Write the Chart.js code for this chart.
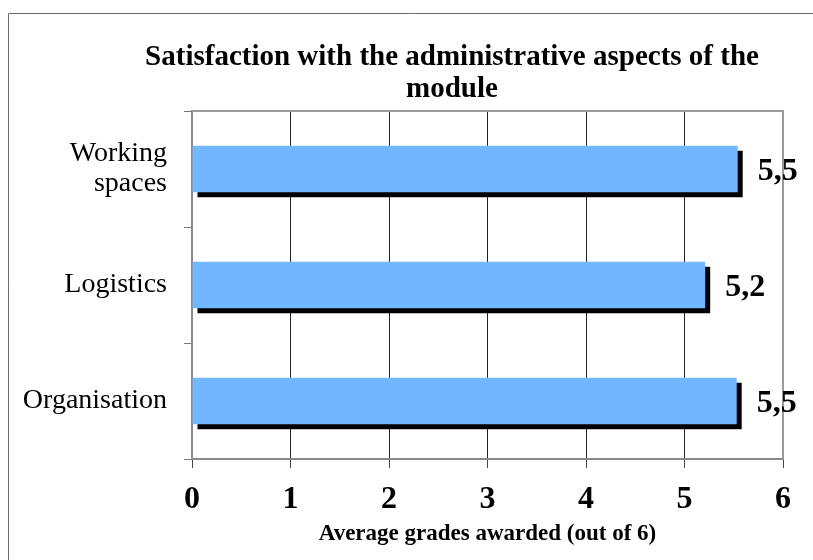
<!DOCTYPE html>
<html>
<head>
<meta charset="utf-8">
<title>Satisfaction with the administrative aspects of the module</title>
<script src="https://cdn.jsdelivr.net/npm/chart.js@4"></script>
<style>
  html, body { margin: 0; padding: 0; background: #fff; overflow: hidden; }
  #wrap { position: relative; width: 813px; height: 560px; }
</style>
</head>
<body>
<div id="wrap"><canvas id="adminChart"></canvas></div>
<script>
// data
const categories = [["Working", "spaces"], "Logistics", "Organisation"];
const grades = [5.54, 5.21, 5.53];
const xTicks = [0, 1, 2, 3, 4, 5, 6];
const titleLines = ["Satisfaction with the administrative aspects of the", "module"];
const xTitle = "Average grades awarded (out of 6)";

const serif = "'Liberation Serif', 'Times New Roman', serif";

// black drop shadow under each bar
const barShadow = {
  id: "barShadow",
  beforeDatasetsDraw(chart) {
    const ctx = chart.ctx;
    ctx.save();
    ctx.shadowColor = "#000";
    ctx.shadowOffsetX = 5;
    ctx.shadowOffsetY = 5;
    ctx.shadowBlur = 0;
  },
  afterDatasetsDraw(chart) {
    chart.ctx.restore();
  },
};

// frame, plot border, title and value labels
const decor = {
  id: "decor",
  afterDraw(chart) {
    const ctx = chart.ctx;
    const area = chart.chartArea;
    ctx.save();

    // outer frame (only left and top are inside the picture)
    ctx.strokeStyle = "#6b6b6b";
    ctx.lineWidth = 1;
    ctx.beginPath();
    ctx.moveTo(8.5, chart.height);
    ctx.lineTo(8.5, 13.5);
    ctx.lineTo(chart.width, 13.5);
    ctx.stroke();

    // plot border top + right
    ctx.strokeStyle = "#9a9a9a";
    ctx.lineWidth = 2;
    ctx.beginPath();
    ctx.moveTo(area.left, area.top);
    ctx.lineTo(area.right, area.top);
    ctx.lineTo(area.right, area.bottom);
    ctx.stroke();

    // title
    ctx.fillStyle = "#000";
    ctx.font = "bold 29px " + serif;
    ctx.textAlign = "center";
    ctx.textBaseline = "alphabetic";
    titleLines.forEach((line, i) => {
      ctx.fillText(line, 452, 65 + i * 32);
    });

    // value labels
    ctx.font = "bold 32px " + serif;
    ctx.textAlign = "left";
    ctx.textBaseline = "middle";
    const meta = chart.getDatasetMeta(0);
    meta.data.forEach((bar, i) => {
      const txt = grades[i].toFixed(1).replace(".", ",");
      ctx.fillText(txt, bar.x + 20, bar.y + 3);
    });

    ctx.restore();
  },
};

new Chart(document.getElementById("adminChart"), {
  type: "bar",
  data: {
    labels: categories,
    datasets: [
      {
        label: "Average grade",
        data: grades,
        backgroundColor: "#71b7ff",
        borderWidth: 0,
        barPercentage: 0.4,
        categoryPercentage: 1,
      },
    ],
  },
  options: {
    indexAxis: "y",
    responsive: true,
    maintainAspectRatio: false,
    animation: false,
    layout: {
      padding: { left: 0, right: 30, top: 111, bottom: 0 },
    },
    plugins: {
      legend: { display: false },
      title: { display: false },
      tooltip: { enabled: false },
    },
    scales: {
      x: {
        type: "linear",
        min: xTicks[0],
        max: xTicks[xTicks.length - 1],
        afterBuildTicks: (scale) => {
          scale.ticks = xTicks.map((v) => ({ value: v }));
        },
        afterFit: (scale) => {
          scale.height = 101;
        },
        ticks: {
          color: "#000",
          padding: 13,
          font: { family: serif, size: 32, weight: "bold", lineHeight: 1.2 },
        },
        grid: {
          color: "#222",
          lineWidth: 1,
          tickLength: 9,
          tickColor: "#444",
        },
        border: { color: "#8a8a8a", width: 2 },
        title: {
          display: true,
          text: xTitle,
          color: "#000",
          padding: { top: 0, bottom: 12 },
          font: { family: serif, size: 23, weight: "bold", lineHeight: 1.2 },
        },
      },
      y: {
        afterFit: (scale) => {
          scale.width = 192;
        },
        ticks: {
          color: "#000",
          padding: 17,
          font: { family: serif, size: 28, lineHeight: 30 / 28 },
        },
        grid: {
          drawOnChartArea: false,
          tickLength: 8,
          color: "#777",
          lineWidth: 1,
        },
        border: { color: "#8a8a8a", width: 2 },
      },
    },
  },
  plugins: [barShadow, decor],
});
</script>
</body>
</html>
